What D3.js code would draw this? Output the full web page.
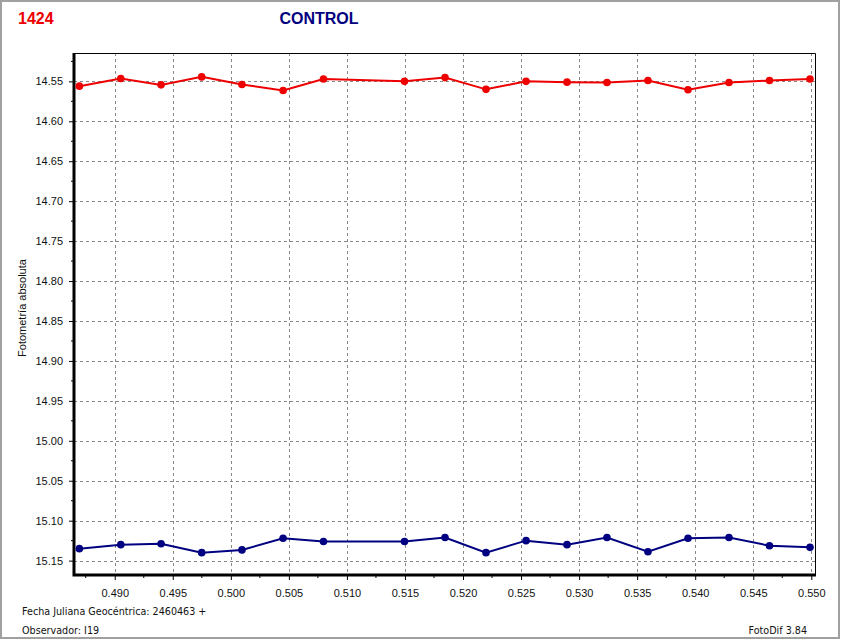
<!DOCTYPE html>
<html><head><meta charset="utf-8">
<script src="https://cdn.jsdelivr.net/npm/d3@7"></script>
<style>body{margin:0;background:#fff}svg{display:block}</style>
</head><body>
<script>
const xValues = [0.48695,0.49052,0.49399,0.49749,0.50096,0.50450,0.50798,0.51496,0.51845,0.52198,0.52543,0.52896,0.53240,0.53593,0.53938,0.54291,0.54640,0.54989];
const redValues = [14.556,14.5465,14.5544,14.5444,14.554,14.5615,14.547,14.550,14.5453,14.560,14.550,14.551,14.5515,14.549,14.5606,14.5515,14.549,14.547];
const blueValues = [15.135,15.130,15.1288,15.140,15.1366,15.122,15.126,15.126,15.121,15.140,15.125,15.130,15.121,15.1388,15.122,15.121,15.1313,15.1334];
const xTicks = [0.490,0.495,0.500,0.505,0.510,0.515,0.520,0.525,0.530,0.535,0.540,0.545,0.550];
const yTicks = [14.55,14.60,14.65,14.70,14.75,14.80,14.85,14.90,14.95,15.00,15.05,15.10,15.15];
const titleLeft = "1424", titleMain = "CONTROL";
const yLabel = "Fotometría absoluta";
const footer1 = "Fecha Juliana Geocéntrica: 2460463 +", footer2 = "Observador: I19", footer3 = "FotoDif 3.84";

const W=844,H=641;
const L=74,R=815,T=53,B=575;
const svg=d3.select("body").append("svg").attr("width",W).attr("height",H);
svg.append("rect").attr("width",W).attr("height",H).attr("fill","#fff");
svg.append("path").attr("d","M1,638 V1 H839 V638 Z").attr("fill","none").attr("stroke","#a0a0a0").attr("stroke-width",2);

const x=d3.scaleLinear().domain([0.48649,0.55032]).range([L,R]);
const y=d3.scaleLinear().domain([14.5145,15.168]).range([T,B]);

const g=svg.append("g");
g.selectAll(".gx").data(xTicks).join("line").attr("x1",d=>Math.round(x(d))+0.5).attr("x2",d=>Math.round(x(d))+0.5).attr("y1",T).attr("y2",B)
 .attr("stroke","#888").attr("stroke-dasharray","3,3");
g.selectAll(".gy").data(yTicks).join("line").attr("y1",d=>Math.round(y(d))+0.5).attr("y2",d=>Math.round(y(d))+0.5).attr("x1",L).attr("x2",R)
 .attr("stroke","#888").attr("stroke-dasharray","3,3");

svg.append("path").attr("d",`M${L},${T+0.5} H${R+0.5} V${B}`).attr("fill","none").attr("stroke","#000").attr("stroke-width",1);

const fmt=d3.format(".3f");
const xAxis=d3.axisBottom(x).tickValues(xTicks).tickFormat(fmt).tickSize(5).tickPadding(9);
const ax=svg.append("g").attr("transform",`translate(0,${B})`).call(xAxis);
ax.select(".domain").remove();
ax.selectAll("text").attr("font-family","Liberation Sans, Arial, sans-serif").attr("font-size",11).attr("fill","#111");
const xMinor=d3.range(0.4875,0.5501,0.005);
ax.selectAll(".mn").data(xMinor).join("line").attr("x1",d=>x(d)).attr("x2",d=>x(d)).attr("y1",0).attr("y2",3).attr("stroke","#000");

const yAxis=d3.axisLeft(y).tickValues(yTicks).tickFormat(d3.format(".2f")).tickSize(5).tickPadding(6);
const ay=svg.append("g").attr("transform",`translate(${L},0)`).call(yAxis);
ay.select(".domain").remove();
ay.selectAll("text").attr("font-family","Liberation Sans, Arial, sans-serif").attr("font-size",11).attr("fill","#111");
const yMinor=d3.range(14.525,15.17,0.05);
ay.selectAll(".mn").data(yMinor).join("line").attr("y1",d=>y(d)).attr("y2",d=>y(d)).attr("x1",0).attr("x2",-3).attr("stroke","#000");

svg.append("path").attr("d",`M${L},${T} V${B} H${R+1}`).attr("fill","none").attr("stroke","#000").attr("stroke-width",3);

function series(vals,color){
  const data=xValues.map((d,i)=>[d,vals[i]]);
  svg.append("path").datum(data).attr("d",d3.line().x(d=>x(d[0])).y(d=>y(d[1]))).attr("fill","none").attr("stroke",color).attr("stroke-width",2);
  svg.append("g").selectAll("circle").data(data).join("circle").attr("cx",d=>x(d[0])).attr("cy",d=>y(d[1])).attr("r",3.8).attr("fill",color);
}
series(redValues,"#ee0000");
series(blueValues,"#000080");

svg.append("text").attr("x",18).attr("y",24).text(titleLeft).attr("font-family","Liberation Sans, Arial, sans-serif").attr("font-weight","bold").attr("font-size",16).attr("fill","#ee0000");
svg.append("text").attr("x",319).attr("y",24).attr("text-anchor","middle").text(titleMain).attr("font-family","Liberation Sans, Arial, sans-serif").attr("font-weight","bold").attr("font-size",16).attr("fill","#000080");
svg.append("text").attr("transform","translate(26,308) rotate(-90)").attr("text-anchor","middle").text(yLabel).attr("font-family","Liberation Sans, Arial, sans-serif").attr("font-size",11).attr("fill","#111");

const ff="DejaVu Sans, sans-serif";
svg.append("text").attr("x",22).attr("y",615).text(footer1).attr("font-family",ff).attr("font-size",9.6).attr("fill","#111");
svg.append("text").attr("x",22).attr("y",634).text(footer2).attr("font-family",ff).attr("font-size",9.6).attr("fill","#111");
svg.append("text").attr("x",807).attr("y",634).attr("text-anchor","end").text(footer3).attr("font-family",ff).attr("font-size",9.6).attr("fill","#111");
</script>
</body></html>
